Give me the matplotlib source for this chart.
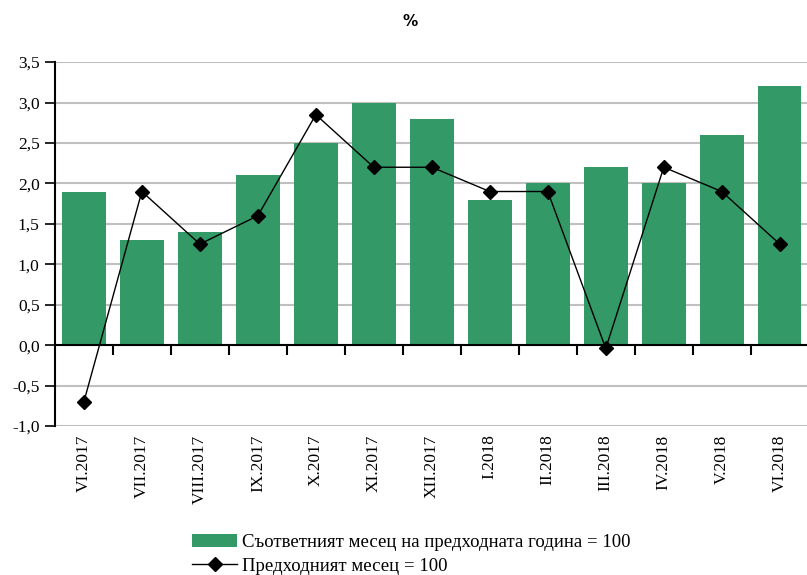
import matplotlib.pyplot as plt
import numpy as np

# данни
months = ["VI.2017", "VII.2017", "VIII.2017", "IX.2017", "X.2017", "XI.2017", "XII.2017",
          "I.2018", "II.2018", "III.2018", "IV.2018", "V.2018", "VI.2018"]
same_month_prev_year = [1.9, 1.3, 1.4, 2.1, 2.5, 3.0, 2.8, 1.8, 2.0, 2.2, 2.0, 2.6, 3.2]
prev_month = [-0.7, 1.9, 1.25, 1.6, 2.85, 2.2, 2.2, 1.9, 1.9, -0.04, 2.2, 1.9, 1.25]

plt.rcParams['font.family'] = ['Liberation Serif', 'DejaVu Serif']

fig = plt.figure(figsize=(8.07, 5.75), dpi=100)
ax = fig.add_axes([0.068, 0.259, 0.932, 0.633])

x = np.arange(len(months))
bars = ax.bar(x, same_month_prev_year, width=0.75, color="#339966", zorder=2,
              label="Съответният месец на предходната година = 100")
line, = ax.plot(x, prev_month, color="black", lw=1, marker="D", ms=7, zorder=4,
                label="Предходният месец = 100")

ax.set_ylim(-1.0, 3.5)
ax.set_xlim(-0.5, 12.47)
yt = np.arange(-1.0, 3.51, 0.5)
ax.set_yticks(yt)
ax.set_yticklabels([f"{v:.1f}".replace(".", ",") for v in yt], fontsize=12.5)
ax.yaxis.grid(True, color="#c0c0c0", lw=1.5, zorder=0)
ax.set_axisbelow(True)

ax.set_xticks(x)
ax.set_xticklabels(months, rotation=90, fontsize=12.5)
ax.tick_params(axis="x", length=0, pad=6)
ax.tick_params(axis="y", length=7, width=1.2, direction="out", pad=4)

for s in ["top", "right", "bottom"]:
    ax.spines[s].set_visible(False)
ax.spines["left"].set_linewidth(1.5)

# нулева линия с деления между категориите
ax.axhline(0, color="black", lw=1.5, zorder=3)
ax.vlines(x[:-1] + 0.5, -0.12, 0, color="black", lw=1.5, zorder=3)

fig.text(0.508, 0.962, "%", ha="center", va="center", fontsize=11, fontweight="bold",
         family="DejaVu Sans")

ax.legend([bars, line], [bars.get_label(), line.get_label()],
          loc="upper left", bbox_to_anchor=(0.17, -0.27), frameon=False,
          fontsize=13.5, handlelength=2.4, labelspacing=0.35, borderpad=0, handletextpad=0.27)

fig.savefig("out.png", dpi=100)
